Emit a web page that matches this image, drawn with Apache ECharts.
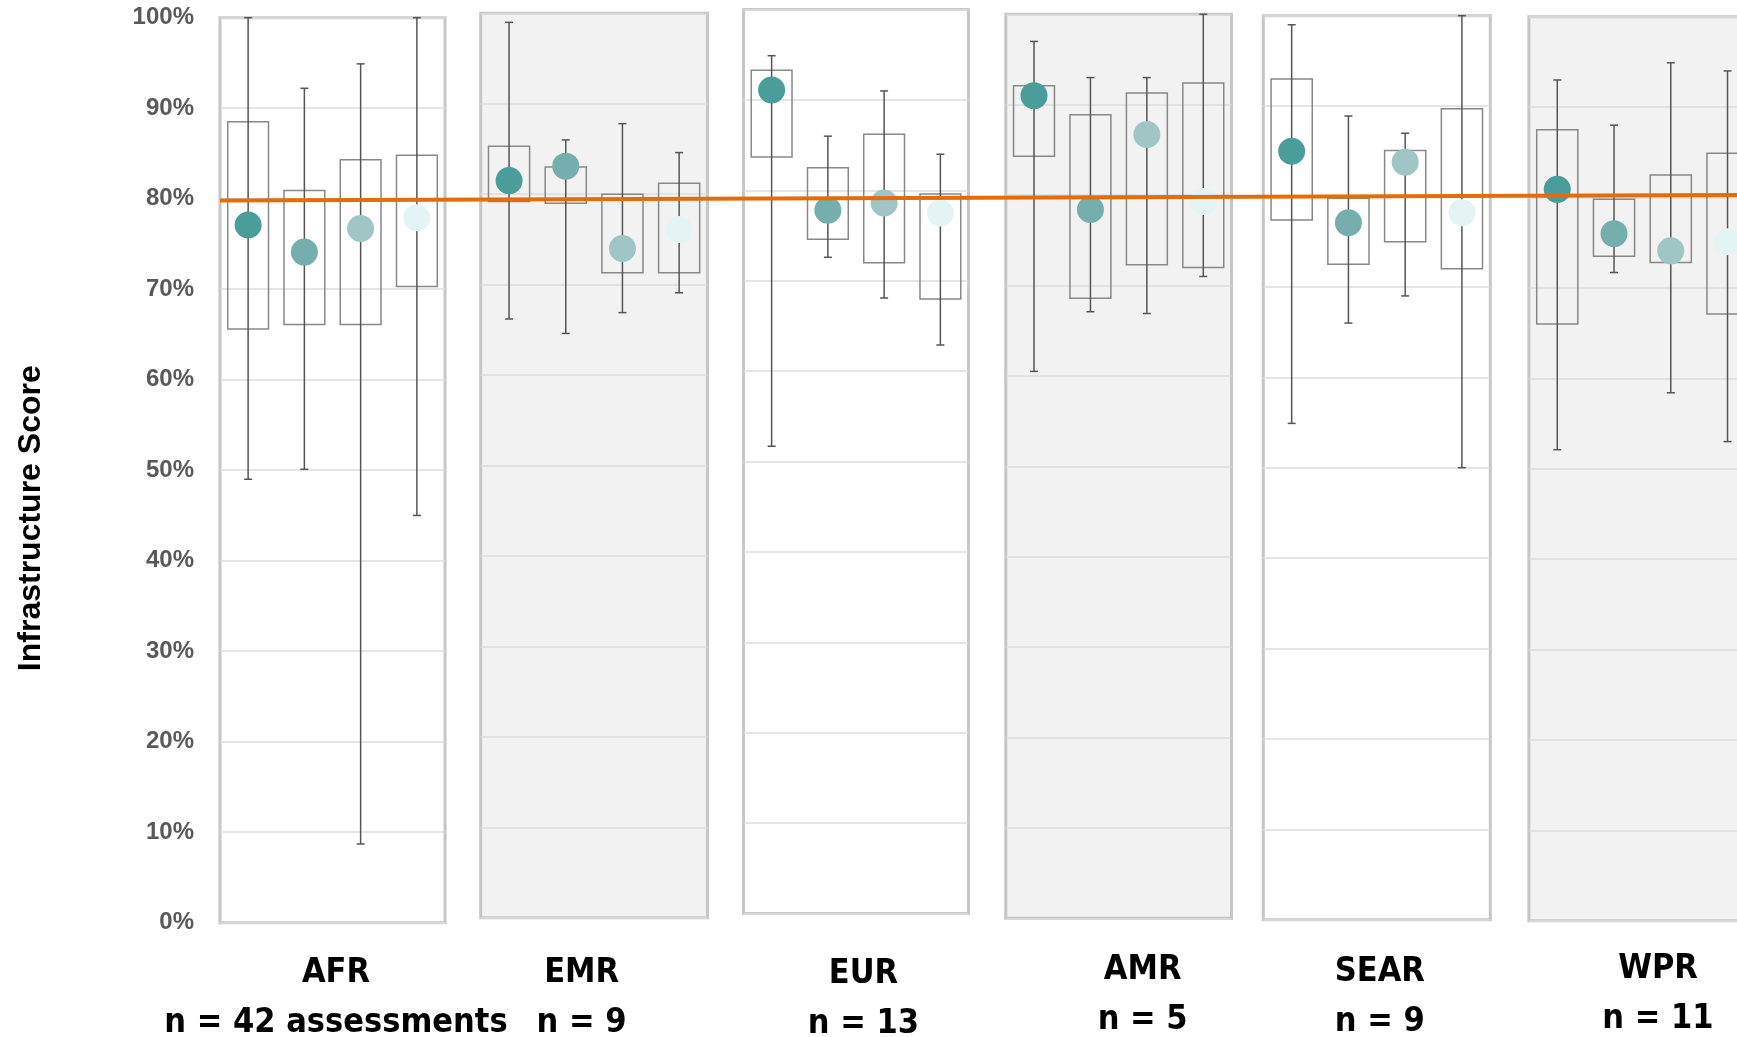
<!DOCTYPE html>
<html>
<head>
<meta charset="utf-8">
<script src="https://cdn.jsdelivr.net/npm/echarts@6/dist/echarts.min.js"></script>
<style>
html,body{margin:0;padding:0;background:#ffffff;}
#chart{width:1737px;height:1037px;}
</style>
</head>
<body>
<div id="chart"></div>
<script>
// ---------------- DATA ----------------
const regions = ['AFR', 'EMR', 'EUR', 'AMR', 'SEAR', 'WPR'];
const sampleSizes = ['n = 42 assessments', 'n = 9', 'n = 13', 'n = 5', 'n = 9', 'n = 11'];
const groups = ['Group 1', 'Group 2', 'Group 3', 'Group 4'];
const yAxisTitle = 'Infrastructure Score';

// one inner array per region, one value per group (percent)
const whiskerHigh = [[100, 92.2, 94.9, 100], [99.0, 86.0, 87.8, 84.6], [94.9, 86.0, 91.0, 84.0], [97.0, 93.0, 93.0, 100], [99.0, 88.9, 87.0, 100], [93.0, 88.0, 94.9, 94.0]];
const boxHigh     = [[88.5, 80.9, 84.3, 84.8], [85.3, 83.0, 80.0, 81.2], [93.3, 82.5, 86.2, 79.6], [92.1, 88.9, 91.3, 92.4], [93.0, 79.8, 85.1, 89.7], [87.5, 79.8, 82.5, 84.9]];
const meanScore   = [[77.1, 74.1, 76.7, 77.9], [81.5, 83.1, 74.0, 76.1], [91.1, 77.8, 78.6, 77.5], [91.0, 78.4, 86.7, 79.3], [85.0, 77.1, 83.8, 78.2], [80.9, 76.0, 74.1, 75.1]];
const boxLow      = [[65.6, 66.1, 66.1, 70.3], [79.2, 79.0, 71.3, 71.3], [83.7, 74.6, 72.0, 68.0], [84.3, 68.6, 72.3, 72.0], [77.4, 72.5, 75.0, 72.0], [66.0, 73.5, 72.8, 67.1]];
const whiskerLow  = [[49.0, 50.1, 8.7, 45.0], [66.2, 64.6, 66.9, 69.1], [51.7, 72.6, 68.1, 62.9], [60.5, 67.1, 66.9, 71.0], [54.9, 66.0, 69.0, 50.0], [52.1, 71.7, 58.4, 53.0]];
// overall reference line (start, end) across all panels
const overallLine = [79.8, 80.4];

// ---------------- STYLE / LAYOUT ----------------
const groupColors = ['#4A9D9A', '#74AEAD', '#9FC5C4', '#E4F3F4'];
const panelLayout = [
  {left: 220,    width: 225,   top: 17.7, height: 905,   bg: '#ffffff', labelDx: 3.5,   labelGap: 25},
  {left: 480.7,  width: 226.8, top: 13.3, height: 904.4, bg: '#f2f2f2', labelDx: -12.5, labelGap: 30},
  {left: 743.5,  width: 225,   top: 9.6,  height: 904,   bg: '#ffffff', labelDx: 7.5,   labelGap: 36},
  {left: 1005.8, width: 225.7, top: 14.3, height: 904,   bg: '#f2f2f2', labelDx: 24,    labelGap: 27},
  {left: 1263.3, width: 227,   top: 15.7, height: 904,   bg: '#ffffff', labelDx: 3,     labelGap: 27},
  {left: 1528.9, width: 227,   top: 16.7, height: 904,   bg: '#f2f2f2', labelDx: 15.6,  labelGap: 23}
];

// pick a condensed bold face for the region labels if one is installed
const measureCtx = document.createElement('canvas').getContext('2d');
function textWidth(font, txt) { measureCtx.font = font; return measureCtx.measureText(txt).width; }
function hasFont(name) {
  const t = 'n = 42 assessments AFR';
  return textWidth('bold 40px monospace', t) !== textWidth("bold 40px '" + name + "', monospace", t);
}
let catFamily = 'Liberation Sans';
if (hasFont('Liberation Sans Narrow')) catFamily = 'Liberation Sans Narrow';
else if (hasFont('DejaVu Sans Condensed')) catFamily = 'DejaVu Sans Condensed';
const fitA = 67.6 * 100 / textWidth("bold 100px '" + catFamily + "'", 'AFR');
const fitB = 336 * 100 / textWidth("bold 100px '" + catFamily + "'", 'n = 42 assessments');
const catSize = Math.round((fitA + fitB) / 2);

const grids = [], xAxes = [], yAxes = [], series = [];
panelLayout.forEach((p, i) => {
  grids.push({
    left: p.left, width: p.width, top: p.top, height: p.height,
    show: true, backgroundColor: p.bg, borderColor: '#c6c6c6', borderWidth: 3,
    containLabel: false, outerBoundsMode: 'none'
  });
  const dx = p.labelDx;
  xAxes.push({
    type: 'category', gridIndex: i, data: groups, boundaryGap: true,
    axisLine: {show: false}, axisTick: {show: false}, axisLabel: {show: false}, splitLine: {show: false},
    name: regions[i] + '\n' + sampleSizes[i], nameLocation: 'middle', nameGap: p.labelGap,
    nameTextStyle: {
      fontFamily: catFamily, fontWeight: 'bold', fontSize: catSize, color: '#000000', lineHeight: 50,
      padding: dx >= 0 ? [0, 0, 0, 2 * dx] : [0, -2 * dx, 0, 0]
    }
  });
  yAxes.push({
    type: 'value', gridIndex: i, min: 0, max: 100, interval: 10,
    axisLine: {show: false}, axisTick: {show: false},
    axisLabel: {show: i === 0, formatter: '{value}%', fontFamily: 'Liberation Sans', fontWeight: 'bold', fontSize: 24, color: '#595959', margin: 26},
    splitLine: {show: true, lineStyle: {color: '#dcdcdc', width: 1.5}},
    name: i === 0 ? yAxisTitle : '', nameLocation: 'middle', nameGap: 173,
    nameTextStyle: {fontFamily: 'Liberation Sans', fontWeight: 'bold', fontSize: 32, color: '#000000', padding: [0, 96, 0, 0]}
  });

  const boxData = groups.map((g, k) => [k, whiskerLow[i][k], boxLow[i][k], boxHigh[i][k], whiskerHigh[i][k]]);
  series.push({
    type: 'custom', name: regions[i] + ' range', xAxisIndex: i, yAxisIndex: i, z: 2,
    data: boxData, encode: {x: 0, y: [1, 2, 3, 4]},
    renderItem: function (params, api) {
      const c = api.value(0);
      const wl = api.coord([c, api.value(1)]);
      const bl = api.coord([c, api.value(2)]);
      const bh = api.coord([c, api.value(3)]);
      const wh = api.coord([c, api.value(4)]);
      const band = api.size([1, 0])[0];
      const bw = band * 0.725, cw = 8, x = wl[0];
      const ws = {stroke: '#555555', lineWidth: 1.5, fill: null};
      return {
        type: 'group', children: [
          {type: 'rect', shape: {x: x - bw / 2, y: bh[1], width: bw, height: bl[1] - bh[1]}, style: {fill: 'none', stroke: '#888888', lineWidth: 1.5}},
          {type: 'line', shape: {x1: x, y1: wh[1], x2: x, y2: wl[1]}, style: ws},
          {type: 'line', shape: {x1: x - cw / 2, y1: wh[1], x2: x + cw / 2, y2: wh[1]}, style: ws},
          {type: 'line', shape: {x1: x - cw / 2, y1: wl[1], x2: x + cw / 2, y2: wl[1]}, style: ws}
        ]
      };
    }
  });
  series.push({
    type: 'scatter', name: regions[i] + ' mean', xAxisIndex: i, yAxisIndex: i, z: 3,
    symbol: 'circle', symbolSize: 27,
    data: meanScore[i].map((v, k) => [k, v]),
    itemStyle: {color: function (d) { return groupColors[d.dataIndex]; }, opacity: 1}
  });
});

// overlay grid for the overall reference line
grids.push({left: 220, right: 0, top: 17.7, height: 905, show: false, containLabel: false, outerBoundsMode: 'none'});
xAxes.push({type: 'value', gridIndex: 6, min: 0, max: 1, show: false});
yAxes.push({type: 'value', gridIndex: 6, min: 0, max: 100, show: false});
series.push({
  type: 'line', name: 'Overall', xAxisIndex: 6, yAxisIndex: 6, z: 5,
  data: overallLine.map((v, k) => [k, v]), symbol: 'none',
  lineStyle: {color: '#E46C0A', width: 4}
});

const chart = echarts.init(document.getElementById('chart'), null, {renderer: 'canvas'});
chart.setOption({
  animation: false,
  backgroundColor: '#ffffff',
  textStyle: {fontFamily: 'Liberation Sans'},
  grid: grids, xAxis: xAxes, yAxis: yAxes, series: series
});
</script>
</body>
</html>
